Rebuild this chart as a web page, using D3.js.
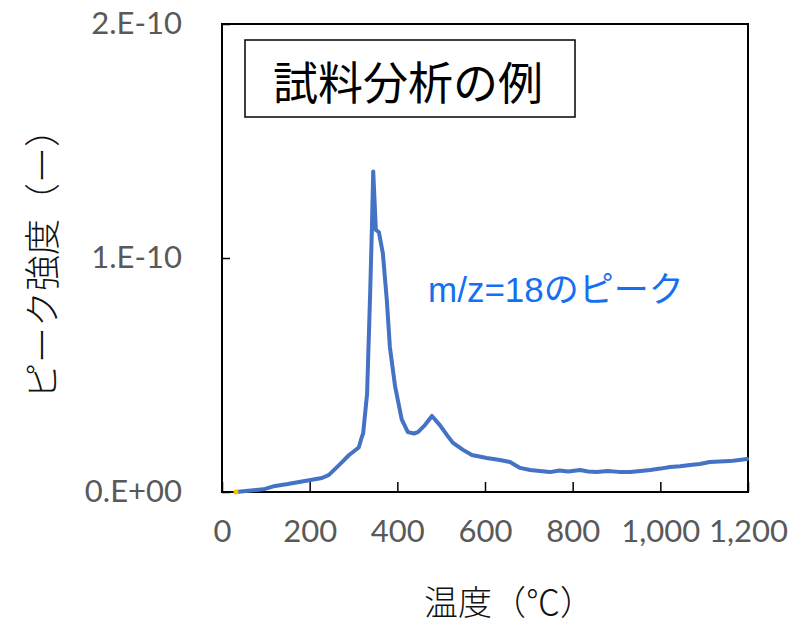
<!DOCTYPE html>
<html>
<head>
<meta charset="utf-8">
<script src="https://cdn.jsdelivr.net/npm/d3@7"></script>
<style>
  body { margin: 0; background: #fff; }
</style>
</head>
<body>
<div id="chart"></div>
<script>
"use strict"

// temperature (°C) and peak intensity (in units of 1e-10)
const temps = [32, 60, 98, 121, 150, 189, 228, 244, 267, 290, 312, 319, 322, 331, 338, 342, 345,
  351, 358, 367, 376, 383, 395, 410, 424, 438, 447, 463, 479, 497, 513, 527, 550, 570,
  604, 634, 657, 680, 703, 725, 748, 770, 790, 817, 835, 855, 880, 905, 931, 955, 977,
  1000, 1022, 1045, 1068, 1090, 1113, 1135, 1159, 1180, 1198];
const intensity = [0, 0.005, 0.013, 0.026, 0.034, 0.047, 0.06, 0.073, 0.115, 0.158, 0.19, 0.235, 0.25, 0.42, 0.85, 1.13, 1.37,
  1.12, 1.11, 1.02, 0.82, 0.62, 0.45, 0.31, 0.256, 0.25, 0.256, 0.286, 0.325, 0.286, 0.244, 0.21, 0.18, 0.158,
  0.145, 0.137, 0.128, 0.103, 0.094, 0.09, 0.085, 0.092, 0.088, 0.094, 0.088, 0.085, 0.09, 0.086, 0.085, 0.09, 0.094,
  0.1, 0.107, 0.11, 0.115, 0.12, 0.128, 0.13, 0.132, 0.137, 0.141];
const unit = 1e-10;

const xTicks = [0, 200, 400, 600, 800, 1000, 1200];
const yTicks = [0, 1e-10, 2e-10];
const yTickLabels = ["0.E+00", "1.E-10", "2.E-10"];

const title = "試料分析の例";
const note = "m/z=18のピーク";
const xLabel = "温度（℃）";
const yLabel = "ピーク強度（ー）";

const W = 792, H = 623;
const m = {left: 222, top: 24, right: 44, bottom: 131};
const iw = W - m.left - m.right, ih = H - m.top - m.bottom;

const svg = d3.select('#chart').append('svg')
  .attr('width', W).attr('height', H);

const x = d3.scaleLinear().domain([0, 1200]).range([m.left, m.left + iw]);
const y = d3.scaleLinear().domain([0, 2e-10]).range([m.top + ih, m.top]);

const numFont = 'Lato, "Open Sans", sans-serif';
const jpFont = '"Noto Sans CJK JP", sans-serif';

// x axis (ticks inside)
const xAxis = svg.append('g')
  .attr('transform', `translate(0,${m.top + ih})`)
  .call(d3.axisBottom(x).tickValues(xTicks).tickSizeInner(-10).tickSizeOuter(0)
    .tickPadding(28).tickFormat(d3.format(',')));
xAxis.select('.domain').remove();
xAxis.selectAll('line').attr('stroke', '#000').attr('stroke-width', 1.5);
xAxis.selectAll('text')
  .attr('fill', '#595959').style('font', `400 31px ${numFont}`);

// y axis (ticks inside)
const yAxis = svg.append('g')
  .attr('transform', `translate(${m.left},0)`)
  .call(d3.axisLeft(y).tickValues(yTicks).tickSizeInner(-8).tickSizeOuter(0)
    .tickPadding(40).tickFormat((d, i) => yTickLabels[i]));
yAxis.select('.domain').remove();
yAxis.selectAll('line').attr('stroke', '#000').attr('stroke-width', 1.5);
yAxis.selectAll('text')
  .attr('fill', '#595959').style('font', `400 31px ${numFont}`);

// plot frame
svg.append('rect')
  .attr('x', m.left).attr('y', m.top)
  .attr('width', iw).attr('height', ih)
  .attr('fill', 'none').attr('stroke', '#000').attr('stroke-width', 2);

// the curve
const pts = temps.map((t, i) => [t, intensity[i] * unit]);
svg.append('path')
  .datum(pts)
  .attr('fill', 'none')
  .attr('stroke', '#4472C4')
  .attr('stroke-width', 4)
  .attr('stroke-linejoin', 'round')
  .attr('stroke-linecap', 'round')
  .attr('d', d3.line().x((d) => x(d[0])).y((d) => y(d[1])));

// start marker
svg.append('circle')
  .attr('cx', x(temps[0])).attr('cy', y(intensity[0] * unit))
  .attr('r', 2.5).attr('fill', '#FFC000');

// title box
svg.append('rect')
  .attr('x', 245).attr('y', 40).attr('width', 330).attr('height', 77)
  .attr('fill', '#fff').attr('stroke', '#000').attr('stroke-width', 1.5);
svg.append('text')
  .attr('x', 408).attr('y', 80)
  .attr('text-anchor', 'middle').attr('dominant-baseline', 'central')
  .style('font', `400 45px ${jpFont}`).attr('fill', '#000')
  .text(title);

// peak annotation
svg.append('text')
  .attr('x', 428).attr('y', 302)
  .style('font', `35px "Liberation Sans", ${jpFont}`).attr('fill', '#1470f0')
  .text(note);

// axis labels
svg.append('text')
  .attr('x', 509).attr('y', 600)
  .attr('text-anchor', 'middle').attr('dominant-baseline', 'central')
  .style('font', `300 34px ${jpFont}`).attr('fill', '#111')
  .text(xLabel);
svg.append('text')
  .attr('transform', 'translate(40,255) rotate(-90)')
  .attr('text-anchor', 'middle').attr('dominant-baseline', 'central')
  .style('font', `300 36px ${jpFont}`).attr('fill', '#111')
  .text(yLabel);
</script>
</body>
</html>
